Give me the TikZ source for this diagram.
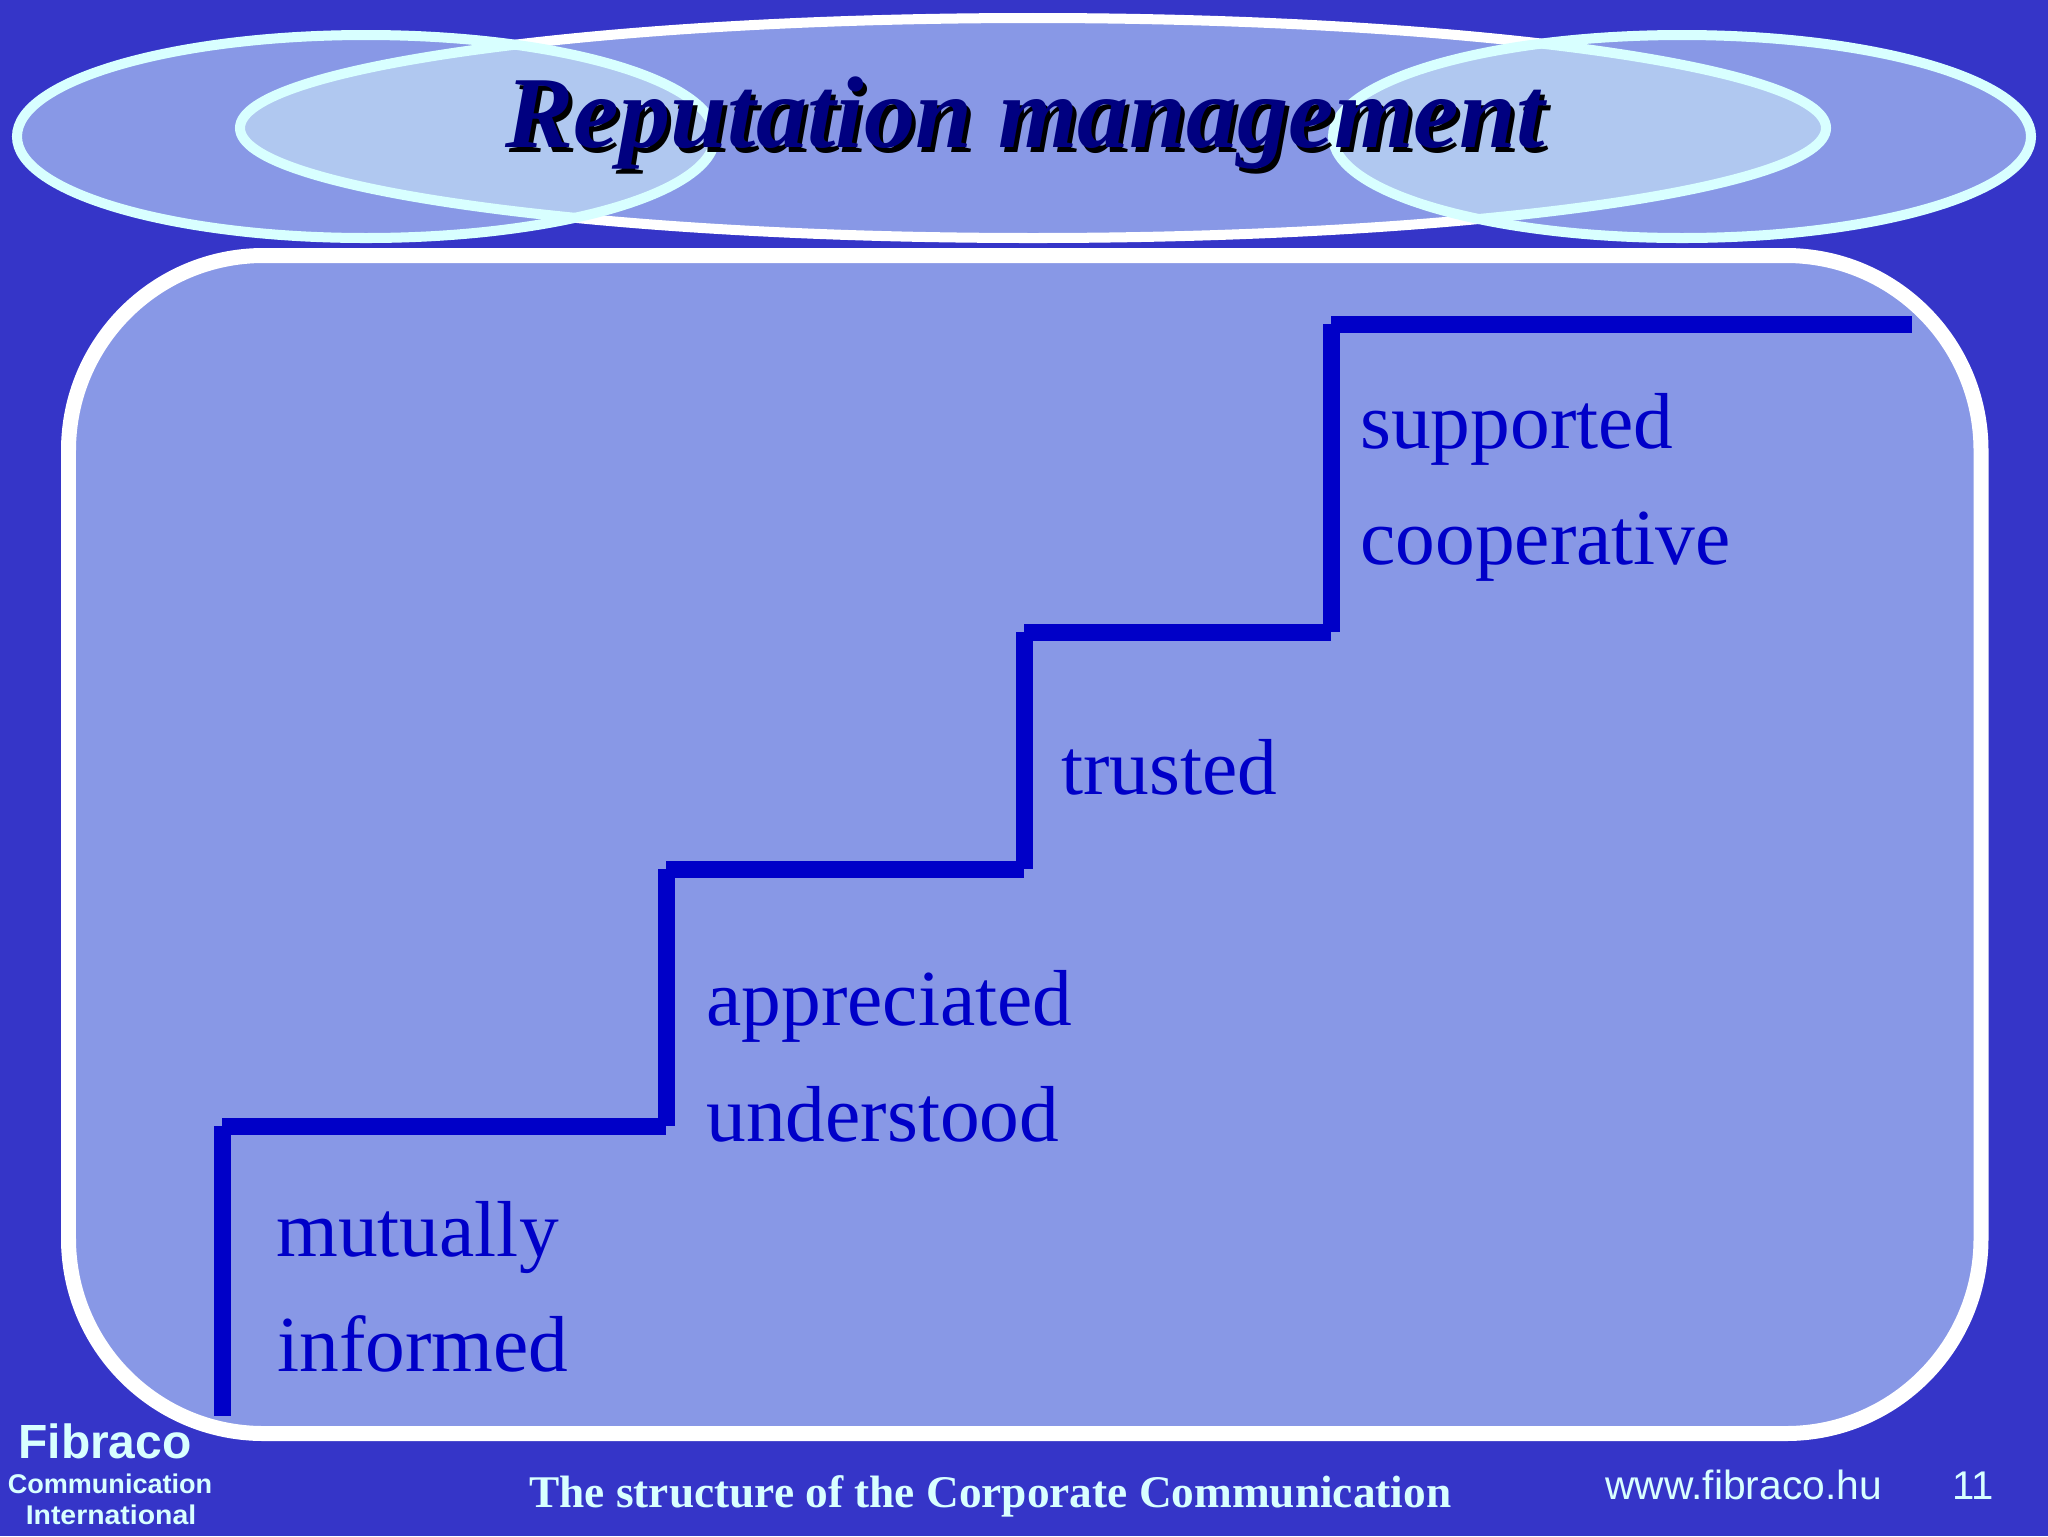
\documentclass[tikz,border=0pt]{standalone}
\usepackage{fontspec}
\setmainfont{Liberation Serif}
\setsansfont{Liberation Sans}
\definecolor{bgblue}{HTML}{3535C8}
\definecolor{panel}{HTML}{8898E6}
\definecolor{overlap}{HTML}{B0C8F0}
\definecolor{paleline}{HTML}{D8FFFF}
\definecolor{stair}{HTML}{0000C8}
\definecolor{navytext}{HTML}{000080}
\newcommand{\titletext}{\fontsize{58}{64}\selectfont\bfseries\itshape\scalebox{1.006}[1]{Reputation management}}
\tikzset{
  steplabel/.style={anchor=base west,inner sep=0pt,text=stair,font=\fontsize{45.2}{50}\selectfont},
  footlabel/.style={inner sep=0pt,text=paleline},
  stairline/.style={draw=stair,line width=17*0.569pt,line cap=butt},
}
\begin{document}
\begin{tikzpicture}[x=0.02cm,y=-0.02cm]
\useasboundingbox (0,0) rectangle (2048,1536);
\fill[bgblue] (0,0) rectangle (2048,1536);
% ellipses
\draw[panel,fill=panel] (1033,128) ellipse [x radius=793,y radius=110];
\draw[white,line width=5.7pt] (1033,128) ellipse [x radius=793,y radius=110];
\foreach \cx in {366,1682}{
  \fill[panel] (\cx,136.5) ellipse [x radius=349,y radius=101.5];
  \begin{scope}
    \clip (\cx,136.5) ellipse [x radius=349,y radius=101.5];
    \fill[overlap] (1033,128) ellipse [x radius=793,y radius=110];
    \draw[paleline,line width=5.7pt] (1033,128) ellipse [x radius=793,y radius=110];
  \end{scope}
  \draw[paleline,line width=5.7pt] (\cx,136.5) ellipse [x radius=349,y radius=101.5];
}
% panel
\draw[white,fill=panel,line width=15*0.569pt,rounded corners=195*0.569pt] (68.5,255.5) rectangle (1981,1433.5);
% title
\node[anchor=base west,inner sep=0pt,text=black] (titleshadow) at (509,152) {\titletext};
\node[anchor=base west,inner sep=0pt,text=navytext] (title) at (505,147) {\titletext};
% stairs
\coordinate (s0) at (222,1416);
\coordinate (s1) at (222,1126);
\coordinate (s2) at (666,1126);
\coordinate (s3) at (666,869);
\coordinate (s4) at (1024,869);
\coordinate (s5) at (1024,632);
\coordinate (s6) at (1331,632);
\coordinate (s7) at (1331,324);
\coordinate (s8) at (1912,324);
\draw[stairline] (s0)--(s1);
\draw[stairline] (s1)--(s2);
\draw[stairline] (s2)--(s3);
\draw[stairline] (s3)--(s4);
\draw[stairline] (s4)--(s5);
\draw[stairline] (s5)--(s6);
\draw[stairline] (s6)--(s7);
\draw[stairline] (s7)--(s8);
% labels
\node[steplabel] (l1) at (1360,448.5) {supported};
\node[steplabel] (l2) at (1360,564) {cooperative};
\node[steplabel] (l3) at (1061,794) {trusted};
\node[steplabel] (l4) at (706,1025.5) {appreciated};
\node[steplabel] (l5) at (706,1141) {understood};
\node[steplabel] (l6) at (276,1256) {mutually};
\node[steplabel] (l7) at (277,1371) {informed};
% footer
\node[footlabel,anchor=base,font=\sffamily\bfseries\fontsize{27.3}{30}\selectfont] (f1) at (105,1458) {Fibraco};
\node[footlabel,anchor=base,font=\sffamily\bfseries\fontsize{15.4}{18}\selectfont] (f2) at (110,1493) {Communication};
\node[footlabel,anchor=base,font=\sffamily\bfseries\fontsize{15.4}{18}\selectfont] (f3) at (111,1524) {\scalebox{1.05}[1]{International}};
\node[footlabel,anchor=base west,font=\bfseries\fontsize{25.8}{30}\selectfont] (f4) at (529,1507) {The structure of the Corporate Communication};
\node[footlabel,anchor=base west,font=\sffamily\fontsize{23.2}{26}\selectfont] (f5) at (1605,1499) {www.fibraco.hu};
\node[footlabel,anchor=base west,font=\sffamily\fontsize{22.8}{26}\selectfont] (f6) at (1952,1499) {11};
\end{tikzpicture}
\end{document}
